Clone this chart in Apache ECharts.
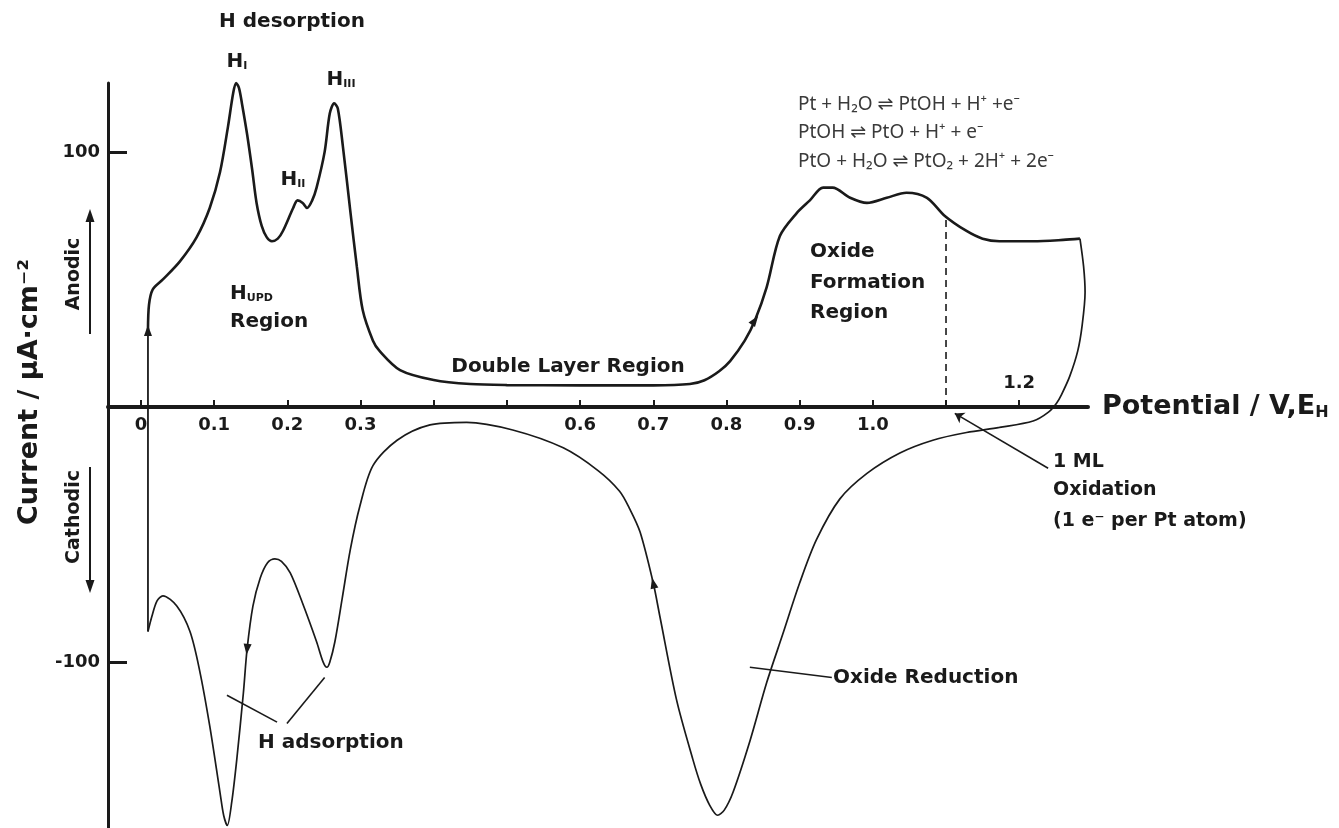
<!DOCTYPE html>
<html>
<head>
<meta charset="utf-8">
<script src="https://cdn.jsdelivr.net/npm/echarts@6/dist/echarts.min.js"></script>
<style>
html,body{margin:0;padding:0;background:#fff;}
#c{width:1339px;height:828px;}
</style>
</head>
<body>
<div id="c"></div>
<script>
// ---------- data ----------
const potentialTicks = [0,0.1,0.2,0.3,0.4,0.5,0.6,0.7,0.8,0.9,1.0,1.1,1.2];
const potentialLabelsBelow = [0,0.1,0.2,0.3,0.6,0.7,0.8,0.9,1.0];
const potentialLabelsAbove = [1.2];
const currentTicks = [100,-100];

// potential step at the start of the anodic sweep (V, µA cm-2)
const stepV = [0.0096, 0.0096];
const stepI = [-88, 30];

// anodic (positive-going) sweep
const anodicV = [0.0096,0.011,0.016,0.030,0.053,0.076,0.094,0.108,0.119,0.126,0.130,0.134,0.138,0.145,0.152,0.158,0.165,0.172,0.179,0.187,0.194,0.208,0.214,0.221,0.227,0.234,0.240,0.251,0.258,0.264,0.269,0.276,0.286,0.295,0.303,0.317,0.326,0.354,0.400,0.450,0.500,0.600,0.700,0.750,0.770,0.790,0.805,0.825,0.839,0.855,0.873,0.896,0.914,0.932,0.945,0.969,0.992,1.019,1.046,1.074,1.098,1.128,1.150,1.173,1.219,1.260,1.283];
const anodicI = [30,40,46,50,57,66.5,78,92,110,123,127,125,119,107,93,80,71,66.5,65,66,69,78,81,80,78,81,86,100,115,119,117,102,77,55,38,26,22,14.5,10.6,9,8.6,8.5,8.5,9,10.5,14,18,26,34,47,67,76,81,86,86,82,80,82,84,82,75,69,66,65,65,65.5,66];

// cathodic (negative-going) sweep
const cathodicV = [1.283,1.288,1.290,1.286,1.280,1.269,1.258,1.251,1.240,1.219,1.173,1.128,1.082,1.037,0.992,0.955,0.923,0.900,0.877,0.855,0.832,0.809,0.797,0.788,0.777,0.765,0.754,0.732,0.709,0.700,0.682,0.668,0.654,0.625,0.577,0.508,0.445,0.395,0.350,0.317,0.299,0.286,0.275,0.265,0.258,0.254,0.249,0.240,0.221,0.204,0.192,0.183,0.173,0.163,0.153,0.145,0.140,0.131,0.124,0.118,0.113,0.108,0.094,0.080,0.067,0.049,0.030,0.022,0.015,0.0096];
const cathodicI = [66,55,45,32,22,12,5,1.5,-2,-5.5,-8,-10,-13,-18,-26,-36,-52,-69,-89,-108,-131,-151,-158,-160,-156,-148,-138,-115,-82,-69,-49,-40,-33,-25,-16,-9,-6,-7,-13,-23,-39,-56,-75,-92,-100,-102,-100,-92,-77,-65,-60.5,-59.5,-61,-67,-78,-95,-112,-138,-155,-164,-160,-151,-125,-103,-88,-78,-74,-76,-82,-88];

// sweep-direction arrowheads
const arrowV = [0.0096, 0.839, 0.700, 0.145];
const arrowI = [30, 34, -69, -95];

// 1 monolayer oxidation marker (dashed line)
const mlV = [1.1, 1.1];
const mlI = [0, 75];

// annotation leader lines
const hAdsLeaderA = [[0.1175,-113],[0.186,-123.5]];
const hAdsLeaderB = [[0.1995,-124],[0.251,-106]];
const oxRedLeader = [[0.832,-102],[0.944,-106]];
const mlLeader = [[1.2395,-24],[1.112,-2.5]];

// ---------- build ----------
const zip = (a,b) => a.map((v,i)=>[v,b[i]]);
const F = "'DejaVu Sans', sans-serif";
const FE = "'Noto Sans', 'DejaVu Sans', sans-serif";
const INK = '#1a1a1a';
const fmt = v => (Number(v) === 0 ? '0' : Number(v).toFixed(1));

const chart = echarts.init(document.getElementById('c'), null, {renderer:'canvas'});

function leader(d){
  return {type:'line', data:d, symbol:'none', silent:true, clip:false, z:3,
    lineStyle:{color:INK, width:1.6}, animation:false};
}
const arrowRot = [0, -36, 13, 174];

function txt(x,y,text,opt){
  opt = opt || {};
  return {type:'text', x:x, y:y, rotation:opt.rot||0, z:10,
    style:{text:text, fontFamily:opt.font||F, fontSize:opt.size||20,
      fontWeight:opt.weight||'bold', fill:opt.fill||INK,
      align:opt.align||'center', verticalAlign:'middle', rich:opt.rich}};
}
const subRich = (size, sub) => ({
  h:{fontFamily:F, fontSize:size, fontWeight:'bold', fill:INK, color:INK},
  s:{fontFamily:F, fontSize:sub, fontWeight:'bold', fill:INK, color:INK, verticalAlign:'bottom'}
});
const tickLabelStyle = {fontFamily:F, fontSize:18, fontWeight:'bold', color:INK, opacity:1};
const eq = {align:'left', size:19, weight:'normal', fill:'#3a3a3a', font:FE};

const option = {
  animation:false,
  backgroundColor:'#ffffff',
  grid:{left:108, right:251, top:83, bottom:0, containLabel:false, outerBoundsMode:'none'},
  xAxis:{
    type:'value', min:-0.045, max:1.294,
    splitLine:{show:false},
    axisLine:{onZero:true, lineStyle:{color:INK, width:4}},
    axisTick:{show:true, inside:true, length:7, customValues:potentialTicks, lineStyle:{color:INK, width:2}},
    axisLabel:{show:false},
    name:'{a|Potential / V,E}{s|H}', nameLocation:'end', nameGap:14,
    nameTextStyle:{verticalAlign:'middle', rich:{
      a:{fontFamily:F, fontSize:27, fontWeight:'bold', color:INK},
      s:{fontFamily:F, fontSize:16, fontWeight:'bold', color:INK, verticalAlign:'bottom'}}}
  },
  yAxis:{
    type:'value', min:-165, max:127,
    splitLine:{show:false},
    axisLine:{onZero:false, lineStyle:{color:INK, width:3}},
    axisTick:{show:true, inside:true, length:19, customValues:currentTicks, lineStyle:{color:INK, width:3}},
    axisLabel:{customValues:currentTicks, margin:8, fontFamily:F, fontSize:18, fontWeight:'bold', color:INK}
  },
  series:[
    {type:'line', name:'step', data:zip(stepV,stepI), symbol:'none', clip:false,
      lineStyle:{color:INK, width:1.8}, z:4},
    {type:'line', name:'anodic', data:zip(anodicV,anodicI), symbol:'none', smooth:0.3, clip:false,
      lineStyle:{color:INK, width:2.6}, z:4},
    {type:'line', name:'cathodic', data:zip(cathodicV,cathodicI), symbol:'none', smooth:0.3, clip:false,
      lineStyle:{color:INK, width:1.7}, z:4},
    {type:'line', name:'1ML', data:zip(mlV,mlI), symbol:'none', clip:false,
      lineStyle:{color:INK, width:1.6, type:[7,5]}, z:3},
    {type:'scatter', name:'arrows', clip:false, z:5,
      data:zip(arrowV,arrowI).map((p,i)=>({value:p, symbolRotate:arrowRot[i]})),
      symbol:'triangle', symbolSize:[8,11], itemStyle:{color:INK, opacity:1}},
    {type:'scatter', name:'tickBelow', clip:false, z:5, symbolSize:0, silent:true,
      itemStyle:{color:INK, opacity:1},
      data:potentialLabelsBelow.map(v=>[v,0]),
      label:Object.assign({show:true, position:'bottom', distance:9, formatter:p=>fmt(p.value[0])}, tickLabelStyle)},
    {type:'scatter', name:'tickAbove', clip:false, z:5, symbolSize:0, silent:true,
      itemStyle:{color:INK, opacity:1},
      data:potentialLabelsAbove.map(v=>[v,0]),
      label:Object.assign({show:true, position:'top', distance:15, formatter:p=>fmt(p.value[0])}, tickLabelStyle)},
    leader(hAdsLeaderA), leader(hAdsLeaderB), leader(oxRedLeader),
    {type:'line', data:[], symbol:'none', silent:true,
      markLine:{silent:true, symbol:['none','arrow'], symbolSize:9, animation:false,
        label:{show:false}, lineStyle:{color:INK, width:1.6, type:'solid'},
        data:[[{coord:mlLeader[0]},{coord:mlLeader[1]}]]}}
  ],
  graphic:[
    txt(30, 392, 'Current / µA·cm⁻²', {size:27, rot:Math.PI/2}),
    txt(74, 274, 'Anodic', {size:19, rot:Math.PI/2}),
    txt(74, 517, 'Cathodic', {size:19, rot:Math.PI/2}),
    {type:'line', shape:{x1:90, y1:334, x2:90, y2:220}, style:{stroke:INK, lineWidth:2}},
    {type:'polygon', shape:{points:[[90,209],[85.5,222],[94.5,222]]}, style:{fill:INK}},
    {type:'line', shape:{x1:90, y1:467, x2:90, y2:581}, style:{stroke:INK, lineWidth:2}},
    {type:'polygon', shape:{points:[[90,593],[85.5,580],[94.5,580]]}, style:{fill:INK}},
    txt(292, 22, 'H desorption', {size:20}),
    txt(237, 62, '{h|H}{s|I}', {rich:subRich(20,11)}),
    txt(293, 180, '{h|H}{s|II}', {rich:subRich(20,11)}),
    txt(341, 80, '{h|H}{s|III}', {rich:subRich(20,11)}),
    txt(230, 294, '{h|H}{s|UPD}', {align:'left', rich:subRich(20,11)}),
    txt(230, 322, 'Region', {align:'left'}),
    txt(568, 367, 'Double Layer Region'),
    txt(810, 252, 'Oxide', {align:'left'}),
    txt(810, 283, 'Formation', {align:'left'}),
    txt(810, 313, 'Region', {align:'left'}),
    txt(798, 105, 'Pt + H₂O ⇌ PtOH + H⁺ +e⁻', eq),
    txt(798, 133, 'PtOH ⇌ PtO + H⁺ + e⁻', eq),
    txt(798, 162, 'PtO + H₂O ⇌ PtO₂ + 2H⁺ + 2e⁻', eq),
    txt(1053, 462, '1 ML', {align:'left', size:19}),
    txt(1053, 490, 'Oxidation', {align:'left', size:19}),
    txt(1053, 521, '(1 e⁻ per Pt atom)', {align:'left', size:19}),
    txt(258, 743, 'H adsorption', {align:'left'}),
    txt(833, 678, 'Oxide Reduction', {align:'left'})
  ]
};
chart.setOption(option);
</script>
</body>
</html>
